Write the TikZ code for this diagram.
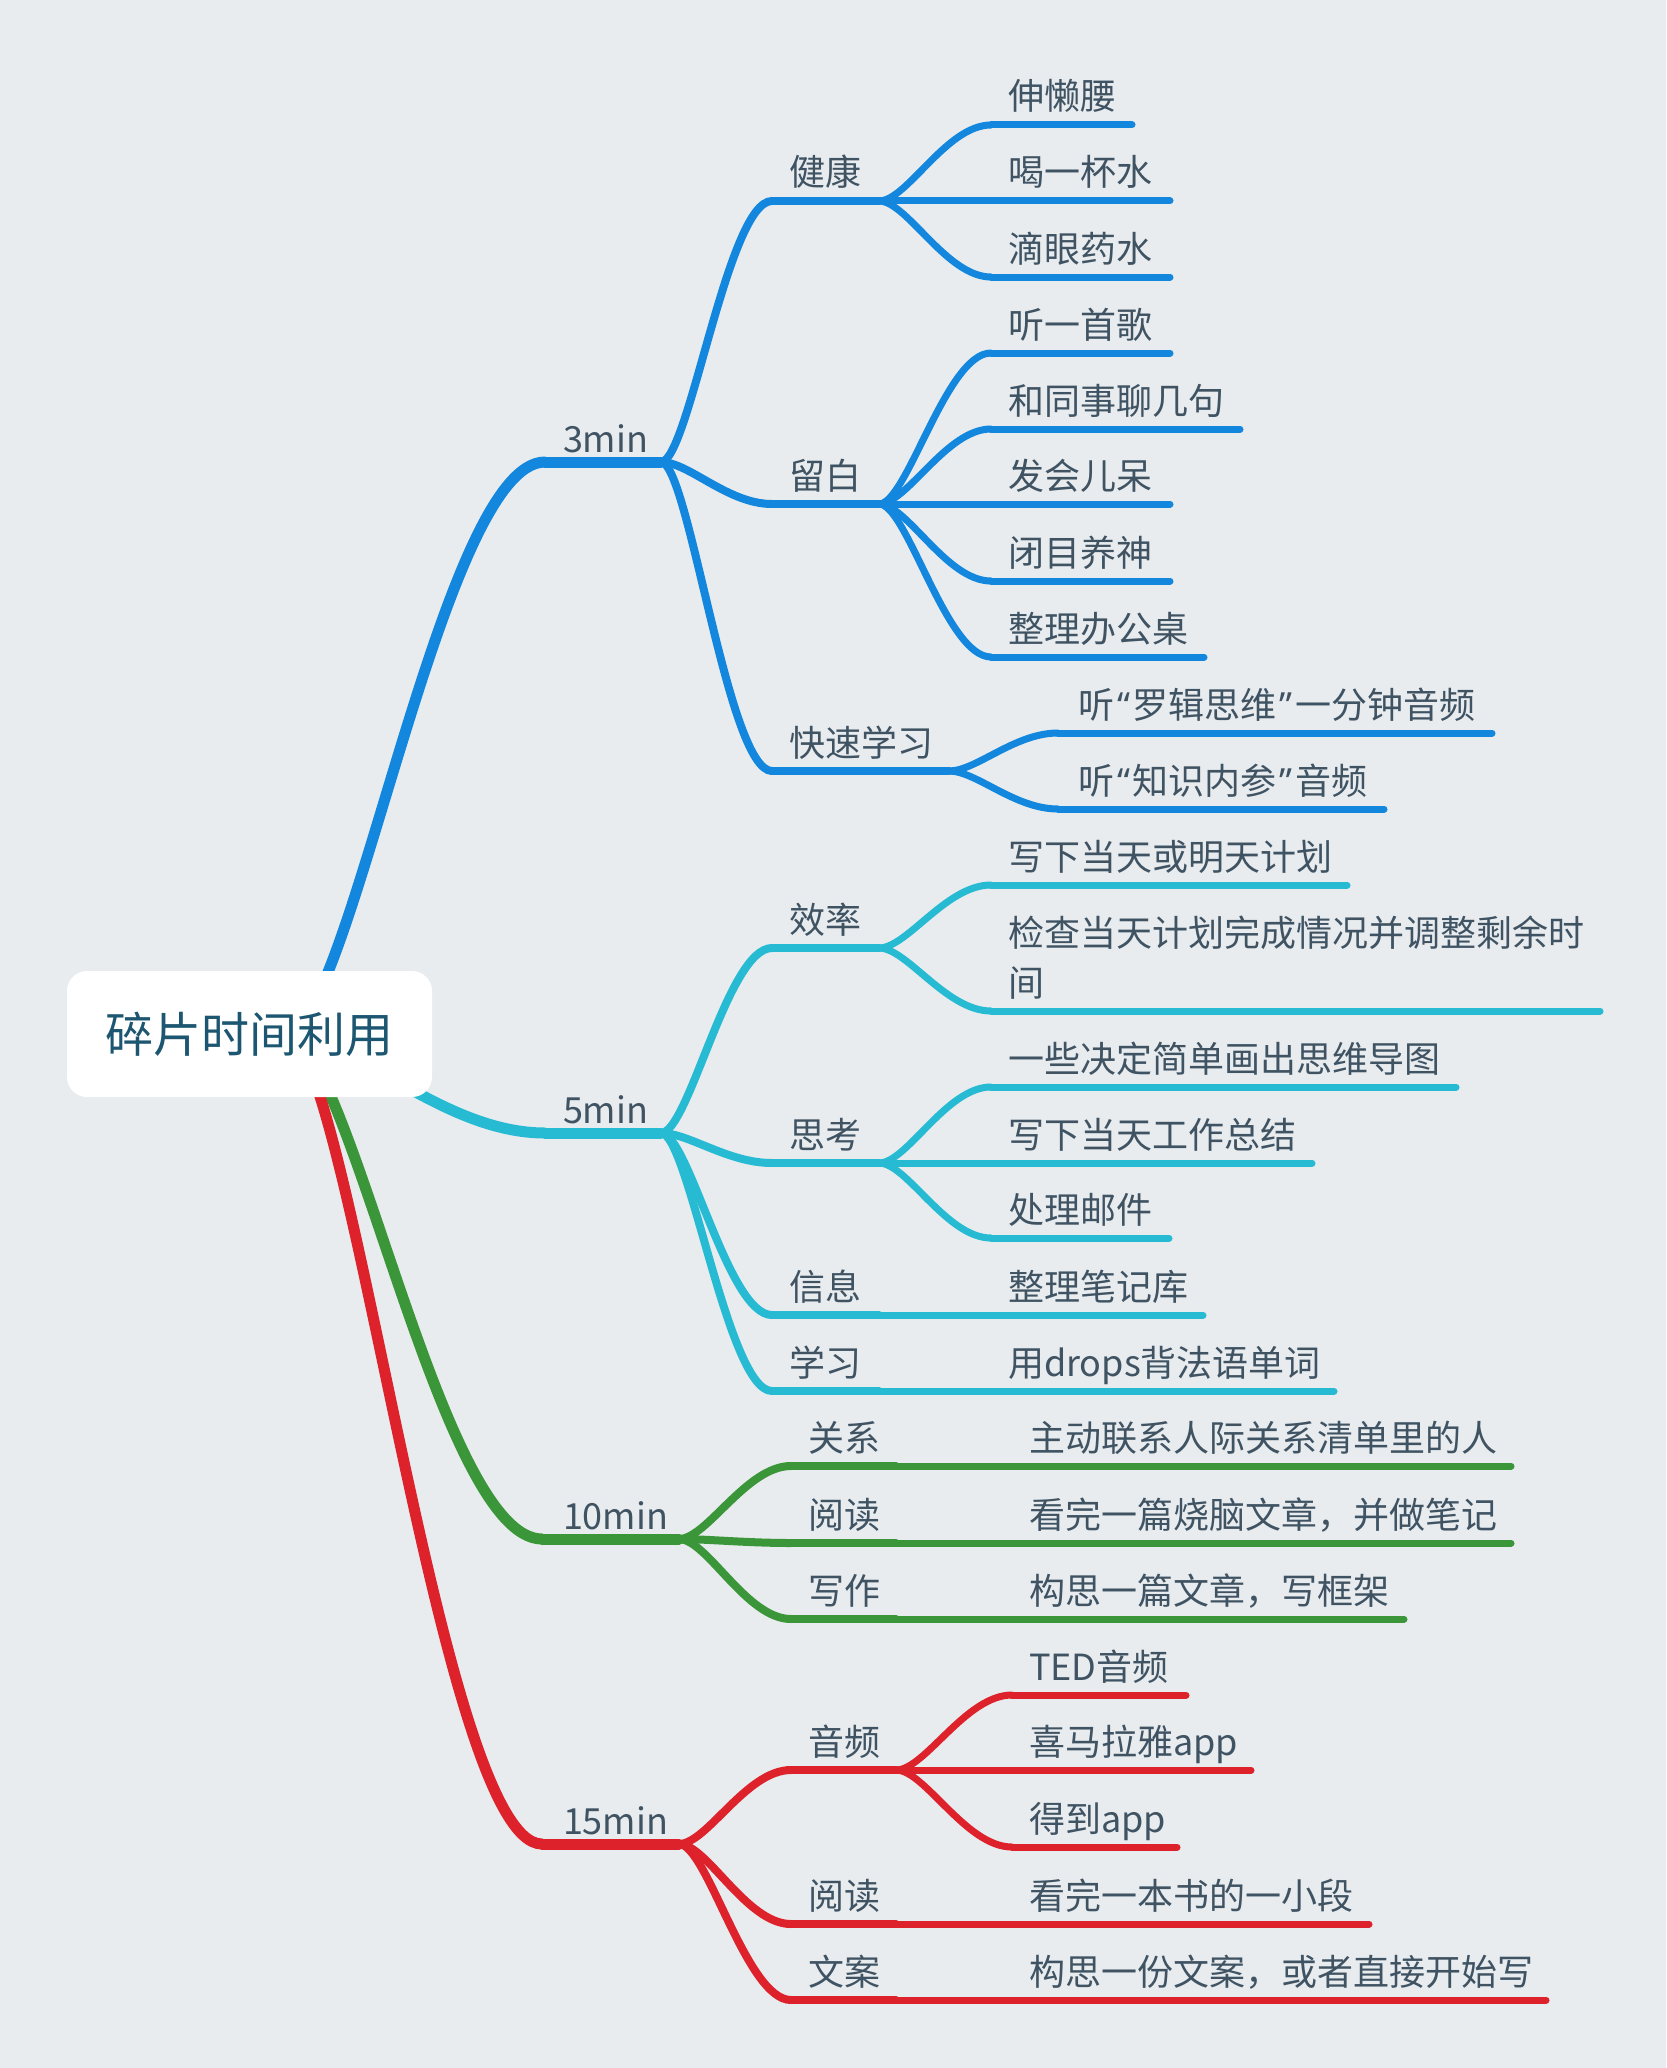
\documentclass[tikz,border=0pt]{standalone}
\usepackage{fontspec}
\newfontfamily\cjk{Noto Sans CJK SC}
\newfontfamily\qfont{Noto Sans}
\usetikzlibrary{calc}
\definecolor{bgc}{HTML}{E8ECEF}
\definecolor{cblue}{HTML}{1287DD}
\definecolor{ccyan}{HTML}{26BBD3}
\definecolor{cgreen}{HTML}{3A9638}
\definecolor{cred}{HTML}{DD222B}
\definecolor{ctext}{HTML}{3F5363}
\definecolor{croot}{HTML}{1D5670}
\newcommand\myql{{\hspace{3pt}\qfont “\hspace{3pt}}}
\newcommand\myqr{{\hspace{3pt}\qfont ”\hspace{3pt}}}
\newcommand\conn[3]{\draw[#1] let \p1=(#2), \p2=(#3) in (\p1) .. controls ({\x1+0.25*(\x2-\x1)},\y1) and ({\x2-0.4*(\x2-\x1)},\y2) .. (\p2);}
% hub: color, name, xs, xe, y, label x, text
\newcommand\hubnode[7]{%
  \coordinate (#2s) at (#3,#5);
  \coordinate (#2e) at (#4,#5);
  \conn{hubline,#1}{ro}{#2s}
  \draw[hubline,#1] (#2s) -- (#2e);
  \node[lbl] (#2) at (#6,{#5-10}) {#7};
}
% mid: color, name, parent, xs, xe, y, text
\newcommand\midnode[7]{%
  \coordinate (#2s) at (#4,#6);
  \coordinate (#2e) at (#5,#6);
  \conn{midline,#1}{#3}{#2s}
  \draw[midline,#1] (#2s) -- (#2e);
  \node[lbl] (#2) at ({#4+17},{#6-15}) {#7};
}
% leaf: color, name, parent, xs, xe, y, label x, text
\newcommand\leafnode[8]{%
  \coordinate (#2s) at (#4,#6);
  \coordinate (#2e) at (#5,#6);
  \conn{leafline,#1}{#3}{#2s}
  \draw[leafline,#1] (#2s) -- (#2e);
  \node[lbl] (#2) at (#7,{#6-15}) {#8};
}
\begin{document}
\begin{tikzpicture}[x=1pt,y=-1pt,
  lbl/.style={anchor=base west, inner sep=0pt, outer sep=0pt, text=ctext, align=left,
    font=\cjk\fontsize{36pt}{50pt}\selectfont},
  hubline/.style={line width=11pt, line cap=round},
  midline/.style={line width=8pt, line cap=round},
  leafline/.style={line width=7pt, line cap=round},
  rootbox/.style={fill=white, rounded corners=20pt, minimum width=365pt, minimum height=126pt,
    inner sep=0pt, text=croot, font=\cjk\fontsize{48pt}{58pt}\selectfont}
]
\fill[bgc] (0,0) rectangle (1666,2068);
\useasboundingbox (0,0) rectangle (1666,2068);
\coordinate (ro) at (285,1034);

% ---- hubs
\hubnode{cblue}{h3}{545}{661}{462}{563}{3min}
\hubnode{ccyan}{h5}{545}{661}{1133}{563}{5min}
\hubnode{cgreen}{h10}{542}{679}{1539}{563}{10min}
\hubnode{cred}{h15}{542}{679}{1844}{563}{15min}

% ---- blue
\midnode{cblue}{a1}{h3e}{772}{879}{201}{健康}
\midnode{cblue}{a2}{h3e}{772}{879}{504}{留白}
\midnode{cblue}{a3}{h3e}{772}{949}{771}{快速学习}
\leafnode{cblue}{b1}{a1e}{991}{1132}{125}{1008}{伸懒腰}
\leafnode{cblue}{b2}{a1e}{991}{1170}{201}{1008}{喝一杯水}
\leafnode{cblue}{b3}{a1e}{991}{1170}{277}{1008}{滴眼药水}
\leafnode{cblue}{b4}{a2e}{991}{1170}{353}{1008}{听一首歌}
\leafnode{cblue}{b5}{a2e}{991}{1240}{429}{1008}{和同事聊几句}
\leafnode{cblue}{b6}{a2e}{991}{1170}{504}{1008}{发会儿呆}
\leafnode{cblue}{b7}{a2e}{991}{1170}{581}{1008}{闭目养神}
\leafnode{cblue}{b8}{a2e}{991}{1204}{657}{1008}{整理办公桌}
\leafnode{cblue}{b9}{a3e}{1058}{1492}{733}{1078}{听\myql 罗辑思维\myqr 一分钟音频}
\leafnode{cblue}{b10}{a3e}{1058}{1384}{809}{1078}{听\myql 知识内参\myqr 音频}

% ---- cyan
\midnode{ccyan}{c1}{h5e}{772}{879}{948}{效率}
\midnode{ccyan}{c2}{h5e}{772}{879}{1163}{思考}
\midnode{ccyan}{c3}{h5e}{772}{879}{1315}{信息}
\midnode{ccyan}{c4}{h5e}{772}{879}{1391}{学习}
\leafnode{ccyan}{d1}{c1e}{991}{1347}{885}{1008}{写下当天或明天计划}
\leafnode{ccyan}{d2}{c1e}{991}{1600}{1011}{1008}{检查当天计划完成情况并调整剩余时\\间}
\leafnode{ccyan}{d3}{c2e}{991}{1456}{1087}{1008}{一些决定简单画出思维导图}
\leafnode{ccyan}{d4}{c2e}{991}{1312}{1163}{1008}{写下当天工作总结}
\leafnode{ccyan}{d5}{c2e}{991}{1169}{1238}{1008}{处理邮件}
\leafnode{ccyan}{d6}{c3e}{879}{1203}{1315}{1008}{整理笔记库}
\leafnode{ccyan}{d7}{c4e}{879}{1334}{1391}{1008}{用drops背法语单词}

% ---- green
\midnode{cgreen}{e1}{h10e}{791}{896}{1466}{关系}
\midnode{cgreen}{e2}{h10e}{791}{896}{1543}{阅读}
\midnode{cgreen}{e3}{h10e}{791}{896}{1619}{写作}
\leafnode{cgreen}{f1}{e1e}{896}{1511}{1466}{1029}{主动联系人际关系清单里的人}
\leafnode{cgreen}{f2}{e2e}{896}{1511}{1543}{1029}{看完一篇烧脑文章，并做笔记}
\leafnode{cgreen}{f3}{e3e}{896}{1404}{1619}{1029}{构思一篇文章，写框架}

% ---- red
\midnode{cred}{g1}{h15e}{791}{896}{1770}{音频}
\midnode{cred}{g2}{h15e}{791}{896}{1924}{阅读}
\midnode{cred}{g3}{h15e}{791}{896}{2000}{文案}
\leafnode{cred}{k1}{g1e}{1012}{1186}{1695}{1029}{TED音频}
\leafnode{cred}{k2}{g1e}{1012}{1251}{1770}{1029}{喜马拉雅app}
\leafnode{cred}{k3}{g1e}{1012}{1177}{1847}{1029}{得到app}
\leafnode{cred}{k4}{g2e}{896}{1369}{1924}{1029}{看完一本书的一小段}
\leafnode{cred}{k5}{g3e}{896}{1546}{2000}{1029}{构思一份文案，或者直接开始写}

% ---- root
\node[rootbox] (root) at (249.5,1034) {碎片时间利用};
\end{tikzpicture}
\end{document}
